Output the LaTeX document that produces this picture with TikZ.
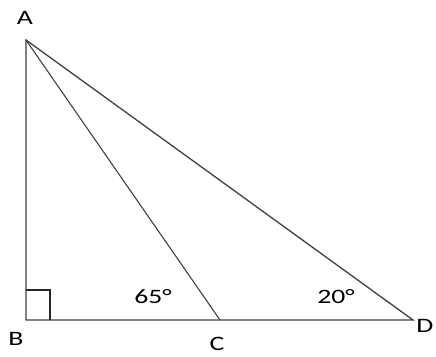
\documentclass[tikz,border=0pt]{standalone}
\usepackage{fontspec}
\setmainfont{Carlito}[FakeStretch=1.35]
\begin{document}
\begin{tikzpicture}[x=1pt,y=-1pt,
  edge/.style={line width=1.3pt,draw=black!75},
  lbl/.style={font=\fontsize{20.5}{24}\selectfont,text=black,inner sep=0pt}]
\useasboundingbox (0,0) rectangle (436,356);
\coordinate (A) at (26,40);
\coordinate (B) at (26,320);
\coordinate (C) at (220,320);
\coordinate (D) at (413,320);
\coordinate (S1) at (26,290);
\coordinate (S2) at (50,290);
\coordinate (S3) at (50,320);
\draw[edge] (A) -- (B) -- (D) -- cycle;
\draw[edge,line width=1.1pt] (A) -- (C);
\draw[line width=1.1pt,draw=black!85] (S1) -- (S2) -- (S3);
\node[lbl] (lA) at (25,18) {A};
\node[lbl] (lB) at (16,339) {B};
\node[lbl] (lC) at (217,344) {C};
\node[lbl] (lD) at (425,326) {D};
\node[lbl] (a65) at (153,297) {65°};
\node[lbl] (a20) at (336,297) {20°};
\end{tikzpicture}
\end{document}
